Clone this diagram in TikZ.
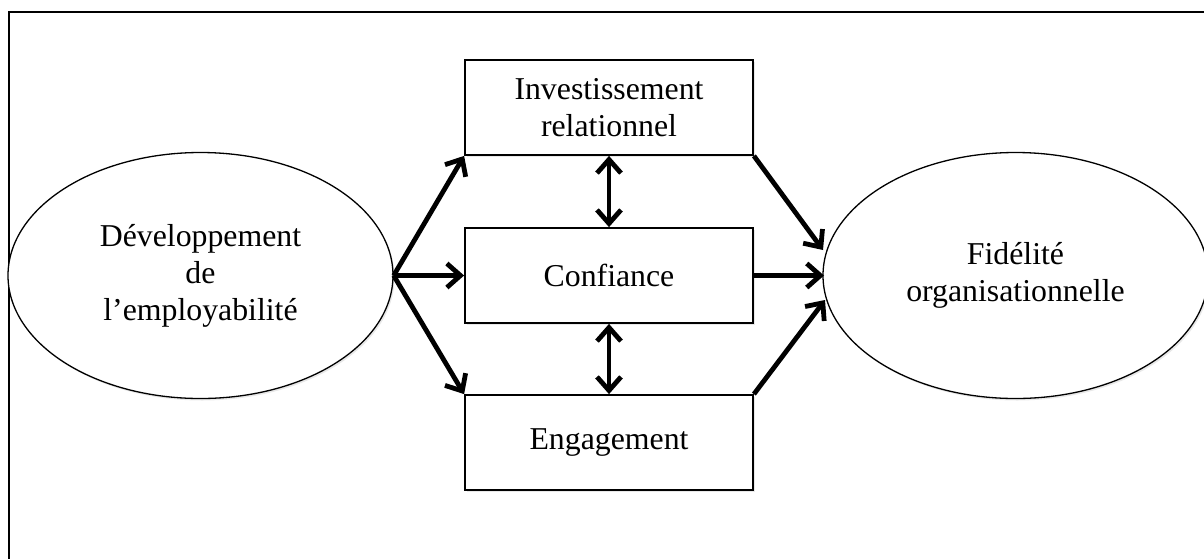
\documentclass[tikz,border=0pt]{standalone}
\usepackage{fontspec}
\setmainfont{Liberation Serif}
\usetikzlibrary{arrows.meta,shapes.geometric,shadows}
\begin{document}
\begin{tikzpicture}[x=0.5pt,y=-0.5pt,
  >={Straight Barb[length=6.8pt,width=12pt,line width=2.4pt]},
  every node/.style={font=\fontsize{15.9pt}{18.5pt}\selectfont, align=center, inner sep=0pt},
  soft/.style={drop shadow={opacity=0.18, shadow xshift=0.8pt, shadow yshift=-1pt}},
  oval/.style={ellipse, draw, fill=white, soft, line width=0.65pt, minimum width=192.5pt, minimum height=123pt},
  box/.style={rectangle, draw, fill=white, soft, line width=0.9pt, minimum width=144pt, minimum height=47.5pt},
  link/.style={line width=2.4pt, ->},
  dlink/.style={line width=2.4pt, <->}
]
\useasboundingbox (0,0) rectangle (1204,558);
\begin{scope}
\clip (0,0) rectangle (1204,558);
\draw[line width=0.85pt] (8.7,600) -- (8.7,11.7) -- (1220,11.7);
\end{scope}
\node[oval] (L) at (200.5,275.5) {\fontsize{15.9pt}{17pt}\selectfont Développement\\de\\l’employabilité};
\node[oval] (R) at (1015.5,275.5) {\fontsize{15.9pt}{18pt}\selectfont Fidélité\\organisationnelle};
\node[box] (T) at (609,107.5) {Investissement\\relationnel};
\node[box] (M) at (609,275.5) {Confiance};
\node[box] (B) at (609,442.5) {Engagement};
\coordinate (r1) at (823,250);
\coordinate (r2) at (824,275.5);
\coordinate (r3) at (825,300);
\draw[link] (L.east) -- (T.south west);
\draw[link] (L.east) -- (M.west);
\draw[link] (L.east) -- (B.north west);
\draw[link] (T.south east) -- (r1);
\draw[link] (M.east) -- (r2);
\draw[link] (B.north east) -- (r3);
\draw[dlink] (T.south) -- (M.north);
\draw[dlink] (M.south) -- (B.north);
\end{tikzpicture}
\end{document}
